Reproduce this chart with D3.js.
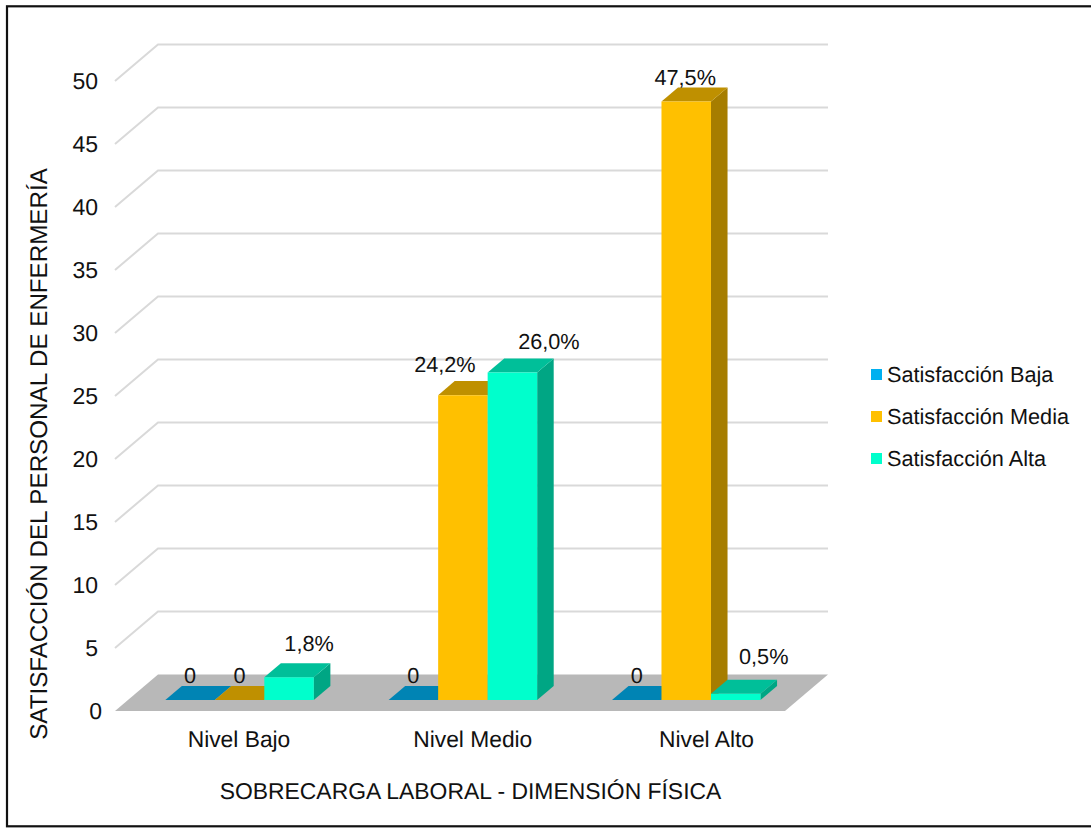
<!DOCTYPE html>
<html><head><meta charset="utf-8">
<script src="https://cdn.jsdelivr.net/npm/d3@7/dist/d3.min.js"></script>
<style>html,body{margin:0;padding:0;background:#fff}svg{display:block}text{font-family:"Liberation Sans",Arial,sans-serif;fill:#111;text-rendering:geometricPrecision}</style>
</head><body><svg id="c" width="1091" height="828"></svg>
<script>
const categories = ["Nivel Bajo","Nivel Medio","Nivel Alto"];
const seriesNames = ["Satisfacción Baja","Satisfacción Media","Satisfacción Alta"];
const baja = [0,0,0];
const media = [0,24.2,47.5];
const alta = [1.8,26.0,0.5];
const labelsBaja = ["0","0","0"];
const labelsMedia = ["0","24,2%","47,5%"];
const labelsAlta = ["1,8%","26,0%","0,5%"];
const yTicks = [0,5,10,15,20,25,30,35,40,45,50];
const frontColors = ["#00B0F0","#FFC000","#00FFCC"];
const topColors = ["#0084B4","#BF9000","#00BF99"];
const sideColors = ["#00698F","#A67D00","#00A684"];
const labelDx = [[0,0,0],[0,-18,-1],[20,36.5,28]];
const labelDy = [[-17,-17,-17],[-17,-23,-16.5],[-26,-23,-30]];
const svg = d3.select("#c");
svg.append("rect").attr("x",7).attr("y",6.3).attr("width",1110).attr("height",820).attr("fill","#fff").attr("stroke","#111").attr("stroke-width",2.2);
const y = d3.scaleLinear().domain([0,50]).range([711,81]);
const x0 = d3.scaleBand().domain(categories).range([115,785]);
const x1 = d3.scaleBand().domain(d3.range(3)).range([0,148.5]);
const xLabel = d3.scalePoint().domain(categories).range([239,706.5]);
const depth = {x:43,y:36.5};
const P = (px,val,d)=>[px+depth.x*d, y(val)-depth.y*d];
const path = pts=>"M"+pts.map(p=>p.join(",")).join("L")+"Z";
svg.append("path").attr("d",path([P(115,0,0),P(115,0,1),P(785,0,1),P(785,0,0)])).attr("fill","#B8B8B8");
const g = svg.append("g").attr("fill","none").attr("stroke","#D9D9D9").attr("stroke-width",2);
yTicks.filter(t=>t>0).forEach(t=>{
  g.append("path").attr("d",d3.line()([P(115,t,0),P(115,t,1),P(785,t,1)]));
});
svg.append("g").selectAll("text").data(yTicks).join("text").attr("x",t=>t===0?102:98).attr("y",t=>y(t)+8).attr("text-anchor","end").attr("font-size",23).text(d=>d);
const d0=0.3, d1=0.685, series=[baja,media,alta];
const labels=[labelsBaja,labelsMedia,labelsAlta];
categories.forEach((c,ci)=>{
  const cx = x0(c)+x0.bandwidth()/2-74.25;
  series.forEach((vals,si)=>{
    const v=vals[ci], l=cx+x1(si), r=l+x1.bandwidth();
    const G=svg.append("g");
    if(v>0) G.append("path").attr("d",path([P(r,0,d0),P(r,0,d1),P(r,v,d1),P(r,v,d0)])).attr("fill",sideColors[si]);
    G.append("path").attr("d",path([P(l,v,d0),P(l,v,d1),P(r,v,d1),P(r,v,d0)])).attr("fill",topColors[si]);
    if(v>0) G.append("path").attr("d",path([P(l,0,d0),P(l,v,d0),P(r,v,d0),P(r,0,d0)])).attr("fill",frontColors[si]);
  });
});
categories.forEach((c,ci)=>{
  const cx = x0(c)+x0.bandwidth()/2-74.25;
  series.forEach((vals,si)=>{
    const v=vals[ci], mid=cx+x1(si)+x1.bandwidth()/2;
    const [px,py]=P(mid,v,d0);
    svg.append("text").attr("x",px+labelDx[si][ci]).attr("y",py+labelDy[si][ci]).attr("text-anchor","middle").attr("font-size",21.7).text(labels[si][ci]);
  });
});
svg.append("g").selectAll("text").data(categories).join("text").attr("x",c=>xLabel(c)).attr("y",747).attr("text-anchor","middle").attr("font-size",22.8).text(d=>d);
svg.append("text").attr("x",470.5).attr("y",798.5).attr("text-anchor","middle").attr("font-size",22.9).text("SOBRECARGA LABORAL - DIMENSIÓN FÍSICA");
svg.append("text").attr("transform","translate(46.5,454) rotate(-90)").attr("text-anchor","middle").attr("font-size",24.2).text("SATISFACCIÓN DEL PERSONAL DE ENFERMERÍA");
const ly=d3.scalePoint().domain(seriesNames).range([375,459]);
const lg=svg.append("g").selectAll("g").data(seriesNames).join("g").attr("transform",d=>`translate(0,${ly(d)})`);
lg.append("rect").attr("x",871).attr("y",-6).attr("width",11).attr("height",11).attr("fill",(d,i)=>frontColors[i]);
lg.append("text").attr("x",887).attr("y",7).attr("font-size",21.7).text(d=>d);
</script></body></html>
